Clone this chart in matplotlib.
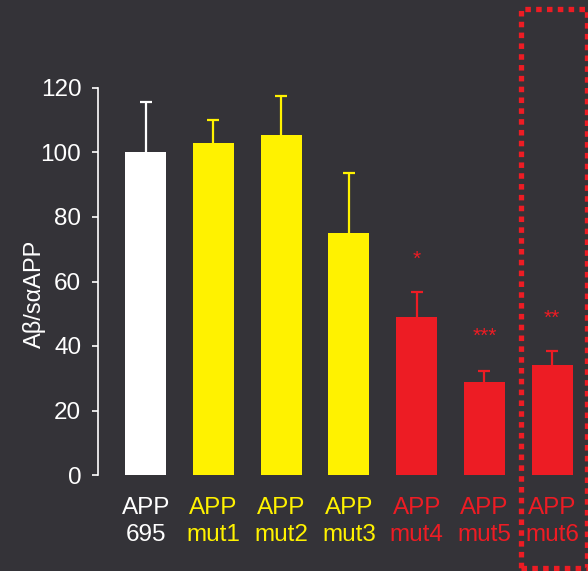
import matplotlib
matplotlib.use("Agg")
import matplotlib.pyplot as plt
from matplotlib.patches import Rectangle

# Data
categories = ["APP\n695", "APP\nmut1", "APP\nmut2", "APP\nmut3", "APP\nmut4", "APP\nmut5", "APP\nmut6"]
values = [100, 103, 105.4, 75, 49, 28.9, 34.1]
errors = [15.7, 7, 12, 18.6, 7.6, 3.4, 4.4]
significance = ["", "", "", "", "*", "***", "**"]
star_heights = [None, None, None, None, 67, 43, 48.5]

BG = "#343338"
WHITE = "#FFFFFF"
YELLOW = "#FFF200"
RED = "#ED1C24"
bar_colors = [WHITE, YELLOW, YELLOW, YELLOW, RED, RED, RED]

plt.rcParams["font.family"] = ["Liberation Sans", "DejaVu Sans"]

W, H = 588, 571
fig = plt.figure(figsize=(W / 100, H / 100), dpi=100, facecolor=BG)

# axes in pixel geometry
left_px, right_px, bottom_px, top_px = 98, 588, 475, 88
ax = fig.add_axes([left_px / W, 1 - bottom_px / H, (right_px - left_px) / W, (bottom_px - top_px) / H])
ax.set_facecolor(BG)
ax.patch.set_alpha(0)

x = list(range(len(values)))
ax.bar(x, values, width=0.605, color=bar_colors, zorder=2)
# symmetric error bars drawn beneath the bars, so only the upper half shows
for xi, v, e, c in zip(x, values, errors, bar_colors):
    ax.errorbar(xi, v, yerr=e, fmt="none", ecolor=c, elinewidth=1.6,
                capsize=4.5, capthick=1.6, zorder=1, clip_on=False)

for xi, s, h in zip(x, significance, star_heights):
    if s:
        ax.text(xi, h, s, color=RED, fontsize=15, ha="center", va="center")

ax.set_xlim(-0.705, 6.53)
ax.set_ylim(0, 120)
ax.set_yticks([0, 20, 40, 60, 80, 100, 120])
for side in ["top", "right", "bottom"]:
    ax.spines[side].set_visible(False)
ax.spines["left"].set_color(WHITE)
ax.spines["left"].set_linewidth(1.2)
ax.tick_params(axis="y", colors=WHITE, labelcolor=WHITE, labelsize=17.5,
               length=4, width=1.2, pad=8)
ax.set_xticks(x)
ax.set_xticklabels(categories, fontsize=17.5, linespacing=1.3)
ax.tick_params(axis="x", length=0, pad=16)
for lbl, c in zip(ax.get_xticklabels(), bar_colors):
    lbl.set_color(c)

fig.text(34 / W, 1 - 294 / H, "Aβ/sαAPP", rotation=90, color=WHITE,
         fontsize=17, ha="center", va="center")

# dotted highlight frame around the last group
fx0, fx1, fy0, fy1 = 521, 587, 9, 568
fig.patches.append(Rectangle((fx0 / W, 1 - fy1 / H), (fx1 - fx0) / W, (fy1 - fy0) / H,
                             transform=fig.transFigure, fill=False, edgecolor=RED,
                             linewidth=3.8, linestyle=(0, (1.05, 1.0)), capstyle="butt",
                             zorder=5))

fig.savefig("out.png", dpi=100, facecolor=BG)
